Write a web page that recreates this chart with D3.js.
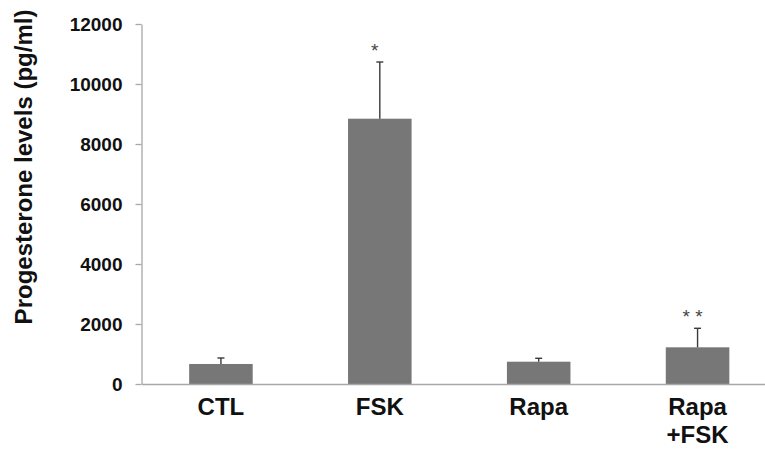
<!DOCTYPE html>
<html>
<head>
<meta charset="utf-8">
<script src="https://cdn.jsdelivr.net/npm/d3@7"></script>
<style>
  html, body { margin: 0; padding: 0; background: #fff; }
  svg { display: block; font-family: "Liberation Sans", Arial, sans-serif; }
</style>
</head>
<body>
<svg id="chart" width="765" height="451"></svg>
<script>
const categories = ["CTL", "FSK", "Rapa", "Rapa\n+FSK"];
const means = [667, 8843, 743, 1223];
const errors = [200, 1890, 114, 634];
const significance = ["", "*", "", "* *"];
const yTicks = [0, 2000, 4000, 6000, 8000, 10000, 12000];
const yTitle = "Progesterone levels (pg/ml)";

const data = categories.map((c, i) => ({ cat: c, mean: means[i], err: errors[i], sig: significance[i] }));

const svg = d3.select("#chart");
const x0 = 141.5, xEnd = 777, yTop = 24, yBottom = 384;

const x = d3.scaleBand().domain(categories).range([x0, xEnd]).paddingInner(0.6).paddingOuter(0.3);
const y = d3.scaleLinear().domain([0, 12000]).range([yBottom, yTop]);

const axisColor = "#a8a8a8";

// Y axis
const yAxis = svg.append("g")
  .attr("transform", `translate(${x0},0)`)
  .call(d3.axisLeft(y).tickValues(yTicks).tickSize(6).tickSizeOuter(0).tickPadding(13).tickFormat(d3.format("d")));
yAxis.select(".domain").attr("stroke", axisColor).attr("stroke-width", 1.3);
yAxis.selectAll(".tick line").attr("stroke", axisColor).attr("stroke-width", 1.3);
yAxis.selectAll(".tick text")
  .attr("fill", "#111")
  .style("font-size", "19px")
  .style("font-weight", "bold")
  .style("font-family", "'Liberation Sans', Arial, sans-serif");

// Bars
svg.append("g").selectAll("rect").data(data).join("rect")
  .attr("x", d => x(d.cat))
  .attr("width", x.bandwidth())
  .attr("y", d => y(d.mean))
  .attr("height", d => y(0) - y(d.mean))
  .attr("fill", "#777777");

// Error bars (upper only)
const eb = svg.append("g").attr("stroke", "#3a3a3a").attr("stroke-width", 1.4);
data.forEach(d => {
  const cx = x(d.cat) + x.bandwidth() / 2;
  eb.append("line").attr("x1", cx).attr("x2", cx).attr("y1", y(d.mean)).attr("y2", y(d.mean + d.err));
  eb.append("line").attr("x1", cx - 3.5).attr("x2", cx + 3.5).attr("y1", y(d.mean + d.err)).attr("y2", y(d.mean + d.err));
});

// Significance stars
svg.append("g").selectAll("text").data(data.filter(d => d.sig)).join("text")
  .attr("x", d => x(d.cat) + x.bandwidth() / 2 - 5)
  .attr("y", d => y(d.mean + d.err) - 5)
  .attr("text-anchor", "middle")
  .attr("fill", "#444")
  .style("font-size", "19px")
  .text(d => d.sig);

// X axis
const xAxis = svg.append("g")
  .attr("transform", `translate(0,${yBottom})`)
  .call(d3.axisBottom(x).tickSize(0).tickSizeOuter(0).tickFormat(""));
xAxis.select(".domain").attr("stroke", axisColor).attr("stroke-width", 1.3);

// Category labels
const lab = svg.append("g").selectAll("text").data(data).join("text")
  .attr("text-anchor", "middle")
  .attr("fill", "#111")
  .style("font-size", "24px")
  .style("font-weight", "bold");
lab.each(function(d) {
  const cx = x(d.cat) + x.bandwidth() / 2;
  const lines = d.cat.split("\n");
  d3.select(this).selectAll("tspan").data(lines).join("tspan")
    .attr("x", cx)
    .attr("y", (l, i) => yBottom + 31 + i * 28)
    .text(l => l);
});

// Y title
svg.append("text")
  .attr("transform", "translate(32,167) rotate(-90)")
  .attr("text-anchor", "middle")
  .attr("fill", "#111")
  .style("font-size", "24px")
  .style("font-weight", "bold")
  .text(yTitle);
</script>
</body>
</html>
